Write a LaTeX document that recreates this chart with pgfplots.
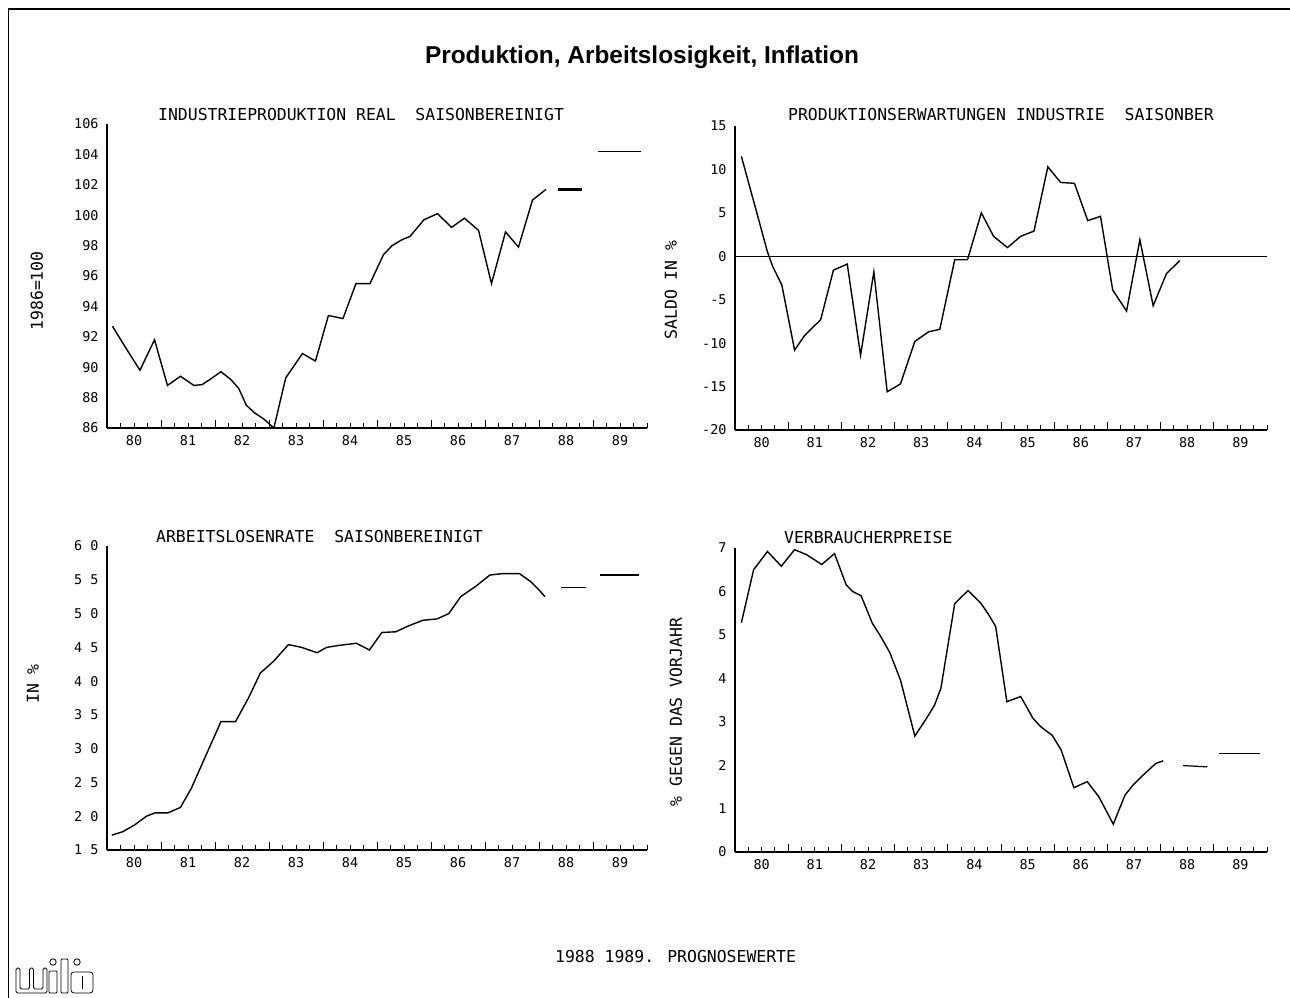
\documentclass[border=0pt]{standalone}
\usepackage{fontspec}
\setmainfont{DejaVu Sans Mono}
\newfontfamily\ttlfont{Liberation Sans}
\usepackage{pgfplots}
\pgfplotsset{compat=1.18}

% x values are years since 1980
\pgfplotsset{
  panel/.style={
    scale only axis, width=540bp, height=304bp,
    xmin=0, xmax=10,
    axis x line*=bottom, axis y line*=left,
    every outer x axis line/.append style={-},
    every outer y axis line/.append style={-},
    axis line style={line width=1.6bp, -},
    tick align=inside,
    major tick length=8bp, minor tick length=4.5bp,
    tick style={line width=1bp, black},
    xtick={1,...,9}, xticklabels={},
    minor xtick={0.25,0.5,...,10},
    ytick=\empty,
    extra x ticks={0.5,1.5,...,9.5},
    extra x tick labels={80,81,82,83,84,85,86,87,88,89},
    extra x tick style={major tick length=0pt, tick style={draw=none}, xticklabel style={yshift=-4bp}},
    extra y tick style={major tick length=0pt, tick style={draw=none}, yticklabel style={xshift=-5bp}},
    tick label style={font=\fontsize{13.5}{14}\selectfont},
    clip=false,
  },
  data/.style={black, line width=1.4bp, no marks},
}

\begin{document}
\begin{tikzpicture}[x=1bp, y=1bp]
\useasboundingbox (0,0) rectangle (1290,998);

% frame
\draw[line width=2.2bp] (8,989) -- (1290,989);
\draw[line width=0.9bp] (8,989) -- (8,0);

% main title
\node[font=\ttlfont\bfseries\fontsize{24.5}{26}\selectfont] at (642,941) {Produktion, Arbeitslosigkeit, Inflation};

% top left: industrial production
\begin{axis}[panel, at={(107bp,570bp)}, anchor=south west,
  ymin=86, ymax=106,
  minor ytick={86,88,...,106},
  extra y ticks={86,88,...,106},
  extra y tick labels={86,88,90,92,94,96,98,100,102,104,106}]
\addplot[data] coordinates {
(0.10,92.7) (0.36,91.2) (0.61,89.8) (0.88,91.8) (1.12,88.8)
(1.36,89.4) (1.61,88.8) (1.76,88.85) (1.91,89.2) (2.11,89.7)
(2.29,89.2) (2.44,88.6) (2.58,87.5) (2.73,87.0) (2.90,86.6)
(3.09,86.0) (3.31,89.3) (3.62,90.9) (3.86,90.4) (4.10,93.4)
(4.37,93.2) (4.61,95.5) (4.87,95.5) (5.12,97.4) (5.28,98.0)
(5.47,98.4) (5.61,98.6) (5.87,99.7) (6.12,100.1) (6.38,99.2)
(6.62,99.8) (6.88,99.0) (7.12,95.5) (7.38,98.9) (7.62,97.9)
(7.88,101.0) (8.13,101.7)};
\addplot[black, line width=2.6bp] coordinates {(8.35,101.7) (8.80,101.7)};
\addplot[black, line width=1.1bp] coordinates {(9.10,104.2) (9.88,104.2)};
\end{axis}

% top right: production expectations
\begin{axis}[panel, width=532bp, at={(735bp,568bp)}, anchor=south west,
  ymin=-20, ymax=15,
  minor ytick={-20,-15,...,15},
  extra y ticks={-20,-15,...,15},
  extra y tick labels={-20,-15,-10,-5,0,5,10,15}]
\addplot[black, line width=1bp] coordinates {(0,0) (10,0)};
\addplot[data] coordinates {
(0.12,11.5) (0.41,5.0) (0.61,0.5) (0.71,-1.2) (0.88,-3.3)
(1.12,-10.8) (1.31,-9.1) (1.61,-7.3) (1.85,-1.6) (2.11,-0.9)
(2.36,-11.4) (2.61,-1.8) (2.86,-15.6) (3.11,-14.7) (3.38,-9.8)
(3.64,-8.7) (3.85,-8.4) (4.13,-0.4) (4.37,-0.4) (4.63,5.0)
(4.86,2.3) (5.12,1.0) (5.37,2.3) (5.62,2.9) (5.88,10.3)
(6.12,8.5) (6.38,8.4) (6.63,4.1) (6.87,4.6) (7.10,-3.9)
(7.36,-6.3) (7.61,1.9) (7.86,-5.7) (8.11,-2.0) (8.36,-0.5)};
\end{axis}

% bottom left: unemployment rate
\begin{axis}[panel, at={(107bp,148bp)}, anchor=south west,
  ymin=1.5, ymax=6.0,
  minor ytick={1.5,2,...,6},
  extra y ticks={1.5,2,...,6},
  extra y tick labels={1\ 5,2\ 0,2\ 5,3\ 0,3\ 5,4\ 0,4\ 5,5\ 0,5\ 5,6\ 0}]
\addplot[data] coordinates {
(0.09,1.72) (0.29,1.77) (0.51,1.87) (0.73,2.00) (0.89,2.05)
(1.13,2.05) (1.36,2.13) (1.56,2.41) (1.82,2.88) (2.11,3.40)
(2.38,3.40) (2.62,3.75) (2.84,4.12) (3.08,4.29) (3.36,4.54)
(3.60,4.50) (3.89,4.42) (4.07,4.50) (4.31,4.53) (4.62,4.56)
(4.86,4.46) (5.09,4.72) (5.35,4.73) (5.56,4.81) (5.85,4.90)
(6.11,4.92) (6.33,5.00) (6.55,5.25) (6.84,5.41) (7.09,5.57)
(7.31,5.59) (7.64,5.59) (7.85,5.47) (8.00,5.35) (8.11,5.25)};
\addplot[black, line width=1.1bp] coordinates {(8.40,5.38) (8.87,5.38)};
\addplot[black, line width=1.4bp] coordinates {(9.13,5.57) (9.85,5.57)};
\end{axis}

% bottom right: consumer prices
\begin{axis}[panel, width=532bp, at={(735bp,146bp)}, anchor=south west,
  ymin=0, ymax=7,
  minor ytick={0,1,...,7},
  extra y ticks={0,1,...,7},
  extra y tick labels={0,1,2,3,4,5,6,7}]
\addplot[data] coordinates {
(0.12,5.28) (0.35,6.50) (0.61,6.92) (0.87,6.58) (1.12,6.96)
(1.34,6.85) (1.63,6.62) (1.87,6.87) (2.09,6.15) (2.21,6.00)
(2.37,5.90) (2.58,5.27) (2.74,4.96) (2.91,4.59) (3.11,3.96)
(3.38,2.67) (3.60,3.08) (3.75,3.38) (3.87,3.77) (4.13,5.72)
(4.38,6.02) (4.62,5.73) (4.77,5.46) (4.90,5.19) (5.11,3.46)
(5.37,3.58) (5.60,3.08) (5.75,2.88) (5.96,2.69) (6.13,2.35)
(6.37,1.48) (6.62,1.62) (6.84,1.27) (7.11,0.64) (7.33,1.31)
(7.48,1.54) (7.67,1.77) (7.91,2.04) (8.05,2.10)};
\addplot[black, line width=1.2bp] coordinates {(8.42,1.99) (8.88,1.96)};
\addplot[black, line width=1.1bp] coordinates {(9.10,2.27) (9.86,2.27)};
\end{axis}

% panel titles and axis labels
\begin{scope}[every node/.style={font=\fontsize{16.5}{18}\selectfont, inner sep=0pt}]
\node[anchor=west] at (158,883) {INDUSTRIEPRODUKTION REAL\ \ SAISONBEREINIGT};
\node[anchor=west] at (788,883) {PRODUKTIONSERWARTUNGEN INDUSTRIE\ \ SAISONBER};
\node[anchor=west] at (156,461) {ARBEITSLOSENRATE\ \ SAISONBEREINIGT};
\node[anchor=west] at (784,460) {VERBRAUCHERPREISE};
\node[rotate=90] at (37,707) {1986=100};
\node[rotate=90] at (33,314) {IN \%};
\node[rotate=90] at (671,708) {SALDO IN \%};
\node[rotate=90] at (676,286) {\% GEGEN DAS VORJAHR};
\node[anchor=west] at (555,41) {1988 1989. PROGNOSEWERTE};
\end{scope}

% logo
\begin{scope}[line width=0.8bp]
\draw[rounded corners=1.5bp] (16,30) -- (16,5) -- (47,5) -- (47,30) -- (43,30) -- (43,9)
  -- (33.5,9) -- (33.5,30) -- (29.5,30) -- (29.5,9) -- (20,9) -- (20,30) -- cycle;
\draw[rounded corners=1bp] (49,5) rectangle (57,27);
\draw (53,36) circle (3.2bp);
\draw[rounded corners=1bp] (61,5) rectangle (68,39);
\draw (77,36) circle (3.2bp);
\draw[rounded corners=3bp] (71,5) rectangle (93,26);
\draw (82,9) -- (82,22);
\end{scope}
\end{tikzpicture}
\end{document}
